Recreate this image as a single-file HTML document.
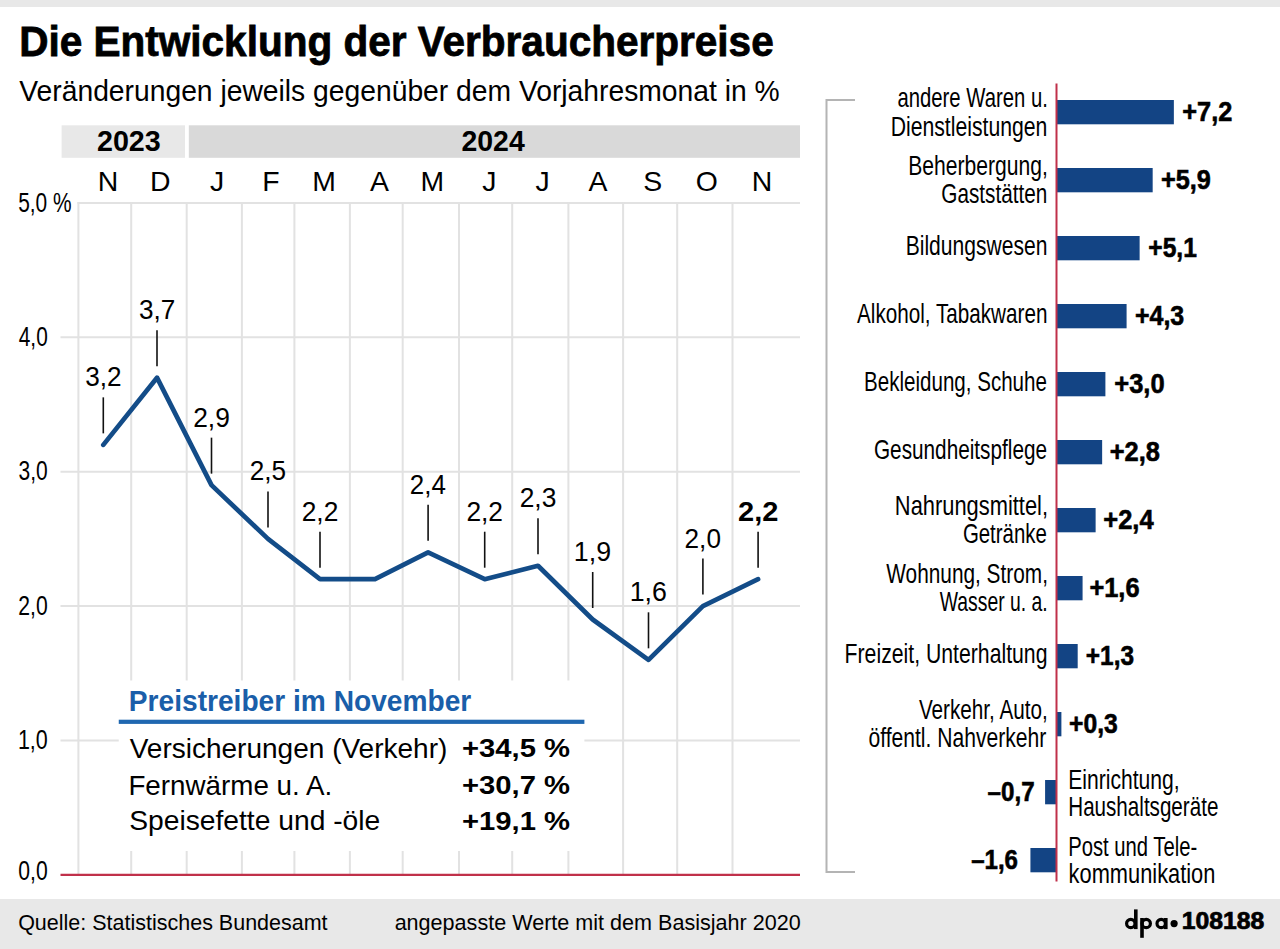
<!DOCTYPE html>
<html><head><meta charset="utf-8"><title>Die Entwicklung der Verbraucherpreise</title>
<style>
html,body{margin:0;padding:0;background:#fff;}
body{width:1280px;height:949px;overflow:hidden;}
svg{display:block;font-family:"Liberation Sans",sans-serif;}
</style></head><body>
<svg width="1280" height="949" viewBox="0 0 1280 949">
<rect width="1280" height="949" fill="#fff"/>
<rect x="0.00" y="0.00" width="1280.00" height="7.00" fill="#e8e8e8"/>
<rect x="0.00" y="899.00" width="1280.00" height="50.00" fill="#e8e8e8"/>
<text x="19.17" y="55.70" font-size="42.03" font-weight="bold" stroke="#000" stroke-width="0.8" fill="#000" textLength="754.52" lengthAdjust="spacingAndGlyphs">Die Entwicklung der Verbraucherpreise</text>
<text x="19.30" y="101.00" font-size="28.84" fill="#000" textLength="760.39" lengthAdjust="spacingAndGlyphs">Veränderungen jeweils gegenüber dem Vorjahresmonat in %</text>
<rect x="61.60" y="125.30" width="123.40" height="32.50" fill="#e8e8e8"/>
<rect x="188.80" y="125.30" width="611.20" height="32.50" fill="#d9d9d9"/>
<text x="96.94" y="151.00" font-size="28.99" font-weight="bold" fill="#000" textLength="63.85" lengthAdjust="spacingAndGlyphs">2023</text>
<text x="461.45" y="150.80" font-size="28.99" font-weight="bold" fill="#000" textLength="63.28" lengthAdjust="spacingAndGlyphs">2024</text>
<line x1="60.50" y1="740.44" x2="800.00" y2="740.44" stroke="#e2e2e2" stroke-width="2"/>
<line x1="60.50" y1="606.08" x2="800.00" y2="606.08" stroke="#e2e2e2" stroke-width="2"/>
<line x1="60.50" y1="471.72" x2="800.00" y2="471.72" stroke="#e2e2e2" stroke-width="2"/>
<line x1="60.50" y1="337.36" x2="800.00" y2="337.36" stroke="#e2e2e2" stroke-width="2"/>
<line x1="77.50" y1="203.00" x2="800.00" y2="203.00" stroke="#e2e2e2" stroke-width="2"/>
<line x1="78.40" y1="202.00" x2="78.40" y2="874.80" stroke="#e2e2e2" stroke-width="2"/>
<line x1="131.20" y1="202.00" x2="131.20" y2="874.80" stroke="#e2e2e2" stroke-width="2"/>
<line x1="186.70" y1="202.00" x2="186.70" y2="874.80" stroke="#e2e2e2" stroke-width="2"/>
<line x1="241.90" y1="202.00" x2="241.90" y2="874.80" stroke="#e2e2e2" stroke-width="2"/>
<line x1="294.40" y1="202.00" x2="294.40" y2="874.80" stroke="#e2e2e2" stroke-width="2"/>
<line x1="349.90" y1="202.00" x2="349.90" y2="874.80" stroke="#e2e2e2" stroke-width="2"/>
<line x1="402.70" y1="202.00" x2="402.70" y2="874.80" stroke="#e2e2e2" stroke-width="2"/>
<line x1="459.00" y1="202.00" x2="459.00" y2="874.80" stroke="#e2e2e2" stroke-width="2"/>
<line x1="512.20" y1="202.00" x2="512.20" y2="874.80" stroke="#e2e2e2" stroke-width="2"/>
<line x1="568.40" y1="202.00" x2="568.40" y2="874.80" stroke="#e2e2e2" stroke-width="2"/>
<line x1="623.10" y1="202.00" x2="623.10" y2="874.80" stroke="#e2e2e2" stroke-width="2"/>
<line x1="677.20" y1="202.00" x2="677.20" y2="874.80" stroke="#e2e2e2" stroke-width="2"/>
<line x1="732.50" y1="202.00" x2="732.50" y2="874.80" stroke="#e2e2e2" stroke-width="2"/>
<text x="97.77" y="190.50" font-size="28.41" fill="#000" textLength="20.51" lengthAdjust="spacingAndGlyphs">N</text>
<text x="150.01" y="190.50" font-size="28.41" fill="#000" textLength="20.51" lengthAdjust="spacingAndGlyphs">D</text>
<text x="210.05" y="190.50" font-size="28.41" fill="#000" textLength="14.20" lengthAdjust="spacingAndGlyphs">J</text>
<text x="262.27" y="190.50" font-size="28.41" fill="#000" textLength="17.35" lengthAdjust="spacingAndGlyphs">F</text>
<text x="312.21" y="190.50" font-size="28.41" fill="#000" textLength="23.66" lengthAdjust="spacingAndGlyphs">M</text>
<text x="369.98" y="190.50" font-size="28.41" fill="#000" textLength="18.95" lengthAdjust="spacingAndGlyphs">A</text>
<text x="420.51" y="190.50" font-size="28.41" fill="#000" textLength="23.66" lengthAdjust="spacingAndGlyphs">M</text>
<text x="482.35" y="190.50" font-size="28.41" fill="#000" textLength="14.20" lengthAdjust="spacingAndGlyphs">J</text>
<text x="535.55" y="190.50" font-size="28.41" fill="#000" textLength="14.20" lengthAdjust="spacingAndGlyphs">J</text>
<text x="588.48" y="190.50" font-size="28.41" fill="#000" textLength="18.95" lengthAdjust="spacingAndGlyphs">A</text>
<text x="643.18" y="190.50" font-size="28.41" fill="#000" textLength="18.95" lengthAdjust="spacingAndGlyphs">S</text>
<text x="695.86" y="190.50" font-size="28.41" fill="#000" textLength="22.09" lengthAdjust="spacingAndGlyphs">O</text>
<text x="751.87" y="190.50" font-size="28.41" fill="#000" textLength="20.51" lengthAdjust="spacingAndGlyphs">N</text>
<text x="18.16" y="211.50" font-size="27.71" fill="#000" textLength="53.40" lengthAdjust="spacingAndGlyphs">5,0 %</text>
<text x="18.78" y="345.86" font-size="27.71" fill="#000" textLength="28.95" lengthAdjust="spacingAndGlyphs">4,0</text>
<text x="18.56" y="480.22" font-size="27.71" fill="#000" textLength="29.18" lengthAdjust="spacingAndGlyphs">3,0</text>
<text x="18.34" y="614.58" font-size="27.71" fill="#000" textLength="29.40" lengthAdjust="spacingAndGlyphs">2,0</text>
<text x="17.90" y="748.94" font-size="27.71" fill="#000" textLength="29.86" lengthAdjust="spacingAndGlyphs">1,0</text>
<text x="18.35" y="880.20" font-size="27.71" fill="#000" textLength="29.39" lengthAdjust="spacingAndGlyphs">0,0</text>
<line x1="60.50" y1="874.80" x2="800.00" y2="874.80" stroke="#c0304a" stroke-width="2.2"/>
<polyline points="103.30,444.85 157.00,377.67 211.50,485.16 268.00,538.90 320.00,579.21 375.00,579.21 428.10,552.34 484.70,579.21 538.00,565.77 592.70,619.52 648.50,659.82 702.90,606.08 758.10,579.21" fill="none" stroke="#134c88" stroke-width="4.7" stroke-linejoin="round" stroke-linecap="round"/>
<line x1="103.30" y1="397.35" x2="103.30" y2="433.35" stroke="#111" stroke-width="1.6"/>
<text x="85.25" y="386.35" font-size="27.20" fill="#000" textLength="36.35" lengthAdjust="spacingAndGlyphs">3,2</text>
<line x1="157.00" y1="330.17" x2="157.00" y2="366.17" stroke="#111" stroke-width="1.6"/>
<text x="138.95" y="319.17" font-size="27.20" fill="#000" textLength="36.35" lengthAdjust="spacingAndGlyphs">3,7</text>
<line x1="211.50" y1="437.66" x2="211.50" y2="473.66" stroke="#111" stroke-width="1.6"/>
<text x="193.18" y="426.66" font-size="27.20" fill="#000" textLength="36.64" lengthAdjust="spacingAndGlyphs">2,9</text>
<line x1="268.00" y1="491.40" x2="268.00" y2="527.40" stroke="#111" stroke-width="1.6"/>
<text x="249.69" y="480.40" font-size="27.20" fill="#000" textLength="36.35" lengthAdjust="spacingAndGlyphs">2,5</text>
<line x1="320.00" y1="531.71" x2="320.00" y2="567.71" stroke="#111" stroke-width="1.6"/>
<text x="301.68" y="520.71" font-size="27.20" fill="#000" textLength="36.64" lengthAdjust="spacingAndGlyphs">2,2</text>
<line x1="428.10" y1="504.84" x2="428.10" y2="540.84" stroke="#111" stroke-width="1.6"/>
<text x="409.80" y="493.84" font-size="27.20" fill="#000" textLength="36.08" lengthAdjust="spacingAndGlyphs">2,4</text>
<line x1="484.70" y1="531.71" x2="484.70" y2="567.71" stroke="#111" stroke-width="1.6"/>
<text x="466.38" y="520.71" font-size="27.20" fill="#000" textLength="36.64" lengthAdjust="spacingAndGlyphs">2,2</text>
<line x1="538.00" y1="518.27" x2="538.00" y2="554.27" stroke="#111" stroke-width="1.6"/>
<text x="519.68" y="507.27" font-size="27.20" fill="#000" textLength="36.64" lengthAdjust="spacingAndGlyphs">2,3</text>
<line x1="592.70" y1="572.02" x2="592.70" y2="608.02" stroke="#111" stroke-width="1.6"/>
<text x="573.83" y="561.02" font-size="27.20" fill="#000" textLength="37.21" lengthAdjust="spacingAndGlyphs">1,9</text>
<line x1="648.50" y1="612.32" x2="648.50" y2="648.32" stroke="#111" stroke-width="1.6"/>
<text x="629.63" y="601.32" font-size="27.20" fill="#000" textLength="37.21" lengthAdjust="spacingAndGlyphs">1,6</text>
<line x1="702.90" y1="558.58" x2="702.90" y2="594.58" stroke="#111" stroke-width="1.6"/>
<text x="684.59" y="547.58" font-size="27.20" fill="#000" textLength="36.35" lengthAdjust="spacingAndGlyphs">2,0</text>
<line x1="758.10" y1="531.71" x2="758.10" y2="567.71" stroke="#111" stroke-width="1.6"/>
<text x="738.08" y="520.71" font-size="27.20" font-weight="bold" fill="#000" textLength="40.33" lengthAdjust="spacingAndGlyphs">2,2</text>
<rect x="118.75" y="680.50" width="465.65" height="170.50" fill="#ffffff"/>
<text x="128.81" y="711.00" font-size="28.99" font-weight="bold" fill="#1a5ea9" textLength="342.51" lengthAdjust="spacingAndGlyphs">Preistreiber im November</text>
<rect x="118.75" y="719.70" width="465.65" height="4.20" fill="#1f67b0"/>
<text x="129.70" y="757.80" font-size="27.83" fill="#000" textLength="317.64" lengthAdjust="spacingAndGlyphs">Versicherungen (Verkehr)</text>
<text x="128.38" y="794.50" font-size="27.83" fill="#000" textLength="203.80" lengthAdjust="spacingAndGlyphs">Fernwärme u. A.</text>
<text x="129.19" y="830.40" font-size="27.83" fill="#000" textLength="251.06" lengthAdjust="spacingAndGlyphs">Speisefette und -öle</text>
<text x="462.03" y="756.60" font-size="26.00" font-weight="bold" fill="#000" textLength="108.07" lengthAdjust="spacingAndGlyphs">+34,5 %</text>
<text x="462.03" y="794.30" font-size="26.00" font-weight="bold" fill="#000" textLength="108.07" lengthAdjust="spacingAndGlyphs">+30,7 %</text>
<text x="462.03" y="830.20" font-size="26.00" font-weight="bold" fill="#000" textLength="108.07" lengthAdjust="spacingAndGlyphs">+19,1 %</text>
<polyline points="855,100 826.5,100 826.5,872 855,872" fill="none" stroke="#b4b4b4" stroke-width="2"/>
<rect x="1056.50" y="100.00" width="117.36" height="24.30" fill="#134484"/>
<text x="897.49" y="107.40" font-size="28.12" fill="#000" textLength="150.36" lengthAdjust="spacingAndGlyphs">andere Waren u.</text>
<text x="890.71" y="136.30" font-size="28.12" fill="#000" textLength="156.63" lengthAdjust="spacingAndGlyphs">Dienstleistungen</text>
<text x="1182.29" y="120.95" font-size="27.71" font-weight="bold" stroke="#000" stroke-width="0.6" fill="#000" textLength="50.08" lengthAdjust="spacingAndGlyphs">+7,2</text>
<rect x="1056.50" y="168.00" width="96.17" height="24.30" fill="#134484"/>
<text x="908.31" y="174.75" font-size="28.12" fill="#000" textLength="139.49" lengthAdjust="spacingAndGlyphs">Beherbergung,</text>
<text x="941.26" y="203.10" font-size="28.12" fill="#000" textLength="106.05" lengthAdjust="spacingAndGlyphs">Gaststätten</text>
<text x="1160.99" y="188.95" font-size="27.71" font-weight="bold" stroke="#000" stroke-width="0.6" fill="#000" textLength="49.87" lengthAdjust="spacingAndGlyphs">+5,9</text>
<rect x="1056.50" y="236.00" width="83.13" height="24.30" fill="#134484"/>
<text x="905.71" y="255.25" font-size="28.12" fill="#000" textLength="141.68" lengthAdjust="spacingAndGlyphs">Bildungswesen</text>
<text x="1148.32" y="256.95" font-size="27.71" font-weight="bold" stroke="#000" stroke-width="0.6" fill="#000" textLength="48.58" lengthAdjust="spacingAndGlyphs">+5,1</text>
<rect x="1056.50" y="304.00" width="70.09" height="24.30" fill="#134484"/>
<text x="857.00" y="323.25" font-size="28.12" fill="#000" textLength="190.42" lengthAdjust="spacingAndGlyphs">Alkohol, Tabakwaren</text>
<text x="1135.00" y="324.95" font-size="27.71" font-weight="bold" stroke="#000" stroke-width="0.6" fill="#000" textLength="49.25" lengthAdjust="spacingAndGlyphs">+4,3</text>
<rect x="1056.50" y="372.00" width="48.90" height="24.30" fill="#134484"/>
<text x="864.06" y="391.25" font-size="28.12" fill="#000" textLength="182.87" lengthAdjust="spacingAndGlyphs">Bekleidung, Schuhe</text>
<text x="1114.28" y="392.95" font-size="27.71" font-weight="bold" stroke="#000" stroke-width="0.6" fill="#000" textLength="50.39" lengthAdjust="spacingAndGlyphs">+3,0</text>
<rect x="1056.50" y="440.00" width="45.64" height="24.30" fill="#134484"/>
<text x="873.96" y="459.25" font-size="28.12" fill="#000" textLength="173.05" lengthAdjust="spacingAndGlyphs">Gesundheitspflege</text>
<text x="1109.78" y="460.95" font-size="27.71" font-weight="bold" stroke="#000" stroke-width="0.6" fill="#000" textLength="50.23" lengthAdjust="spacingAndGlyphs">+2,8</text>
<rect x="1056.50" y="508.00" width="39.12" height="24.30" fill="#134484"/>
<text x="894.85" y="514.70" font-size="28.12" fill="#000" textLength="153.17" lengthAdjust="spacingAndGlyphs">Nahrungsmittel,</text>
<text x="962.88" y="543.20" font-size="28.12" fill="#000" textLength="84.00" lengthAdjust="spacingAndGlyphs">Getränke</text>
<text x="1103.28" y="528.95" font-size="27.71" font-weight="bold" stroke="#000" stroke-width="0.6" fill="#000" textLength="50.32" lengthAdjust="spacingAndGlyphs">+2,4</text>
<rect x="1056.50" y="576.00" width="26.08" height="24.30" fill="#134484"/>
<text x="886.30" y="582.50" font-size="28.12" fill="#000" textLength="161.63" lengthAdjust="spacingAndGlyphs">Wohnung, Strom,</text>
<text x="939.80" y="611.30" font-size="28.12" fill="#000" textLength="107.85" lengthAdjust="spacingAndGlyphs">Wasser u. a.</text>
<text x="1089.38" y="596.95" font-size="27.71" font-weight="bold" stroke="#000" stroke-width="0.6" fill="#000" textLength="50.18" lengthAdjust="spacingAndGlyphs">+1,6</text>
<rect x="1056.50" y="644.00" width="21.19" height="24.30" fill="#134484"/>
<text x="844.60" y="663.25" font-size="28.12" fill="#000" textLength="202.87" lengthAdjust="spacingAndGlyphs">Freizeit, Unterhaltung</text>
<text x="1085.82" y="664.95" font-size="27.71" font-weight="bold" stroke="#000" stroke-width="0.6" fill="#000" textLength="48.21" lengthAdjust="spacingAndGlyphs">+1,3</text>
<rect x="1056.50" y="712.00" width="4.89" height="24.30" fill="#134484"/>
<text x="918.90" y="718.50" font-size="28.12" fill="#000" textLength="128.89" lengthAdjust="spacingAndGlyphs">Verkehr, Auto,</text>
<text x="868.46" y="746.50" font-size="28.12" fill="#000" textLength="177.75" lengthAdjust="spacingAndGlyphs">öffentl. Nahverkehr</text>
<text x="1069.01" y="732.95" font-size="27.71" font-weight="bold" stroke="#000" stroke-width="0.6" fill="#000" textLength="48.73" lengthAdjust="spacingAndGlyphs">+0,3</text>
<rect x="1045.09" y="780.00" width="11.41" height="24.30" fill="#134484"/>
<text x="1068.21" y="788.50" font-size="28.12" fill="#000" textLength="111.50" lengthAdjust="spacingAndGlyphs">Einrichtung,</text>
<text x="1068.25" y="815.50" font-size="28.12" fill="#000" textLength="150.11" lengthAdjust="spacingAndGlyphs">Haushaltsgeräte</text>
<text x="987.57" y="800.95" font-size="27.71" font-weight="bold" stroke="#000" stroke-width="0.6" fill="#000" textLength="47.04" lengthAdjust="spacingAndGlyphs">–0,7</text>
<rect x="1030.42" y="848.00" width="26.08" height="24.30" fill="#134484"/>
<text x="1068.28" y="855.90" font-size="28.12" fill="#000" textLength="128.91" lengthAdjust="spacingAndGlyphs">Post und Tele-</text>
<text x="1068.59" y="883.30" font-size="28.12" fill="#000" textLength="146.82" lengthAdjust="spacingAndGlyphs">kommunikation</text>
<text x="971.18" y="868.95" font-size="27.71" font-weight="bold" stroke="#000" stroke-width="0.6" fill="#000" textLength="46.79" lengthAdjust="spacingAndGlyphs">–1,6</text>
<line x1="1056.50" y1="83.50" x2="1056.50" y2="881.50" stroke="#c0304a" stroke-width="2"/>
<text x="18.14" y="929.50" font-size="21.74" fill="#000" textLength="309.47" lengthAdjust="spacingAndGlyphs">Quelle: Statistisches Bundesamt</text>
<text x="394.64" y="929.50" font-size="21.74" fill="#000" textLength="406.08" lengthAdjust="spacingAndGlyphs">angepasste Werte mit dem Basisjahr 2020</text>
<g fill="none" stroke="#000" stroke-width="3.2"><circle cx="1130.8" cy="923.5" r="4.2"/><circle cx="1146.2" cy="923.5" r="4.2"/><circle cx="1161.2" cy="923.5" r="4.2"/></g>
<rect x="1134.00" y="909.40" width="3.60" height="19.70" fill="#000"/>
<rect x="1140.20" y="918.00" width="3.60" height="19.80" fill="#000"/>
<rect x="1164.00" y="918.00" width="3.60" height="11.10" fill="#000"/>
<circle cx="1174.1" cy="923.6" r="3.6" fill="#000"/>
<text x="1181.82" y="929.10" font-size="23.19" font-weight="bold" stroke="#000" stroke-width="0.7" fill="#000" textLength="82.54" lengthAdjust="spacingAndGlyphs">108188</text>
</svg>
</body></html>
